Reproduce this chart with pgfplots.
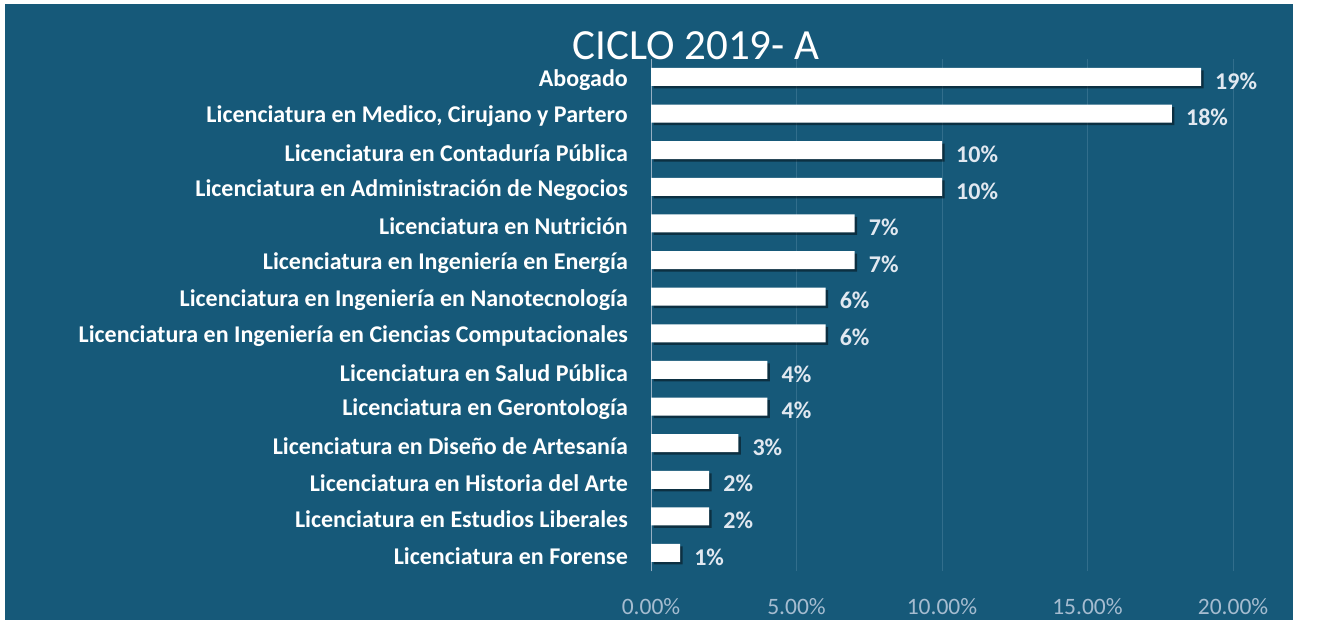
\documentclass[border=0pt]{standalone}
\usepackage{fontspec}
\setmainfont{Carlito}
\usepackage{pgfplots}
\pgfplotsset{compat=1.18}
\usetikzlibrary{shadows}
\definecolor{bg}{RGB}{22,89,121}
\definecolor{gridc}{RGB}{50,110,140}
\definecolor{axc}{RGB}{150,175,195}
\definecolor{ticklab}{RGB}{165,188,208}
\definecolor{vallab}{RGB}{225,232,240}
\begin{document}
\begin{tikzpicture}[x=1bp,y=1bp]
\fill[white] (0,0) rectangle (1336,624);
\fill[bg] (5,4) rectangle (1293,620);
\node[anchor=base, text=white, font=\fontsize{43bp}{50bp}\selectfont, inner sep=0pt] at (696,564) {CICLO 2019- A};
\begin{axis}[
  at={(651bp,52.7bp)}, anchor=south west,
  scale only axis, width=582bp, height=512.6bp,
  xmin=0, xmax=20, ymin=-0.5, ymax=13.5,
  xbar, bar width=18bp, bar shift=0pt,
  /pgf/number format/assume math mode=true,
  axis lines=left,
  axis line style={-},
  x axis line style={draw=none},
  y axis line style={draw=axc, line width=1bp},
  major tick length=0pt,
  xmajorgrids, grid style={draw=gridc, line width=1bp},
  xtick={0,5,10,15,20},
  xticklabels={0.00\%,5.00\%,10.00\%,15.00\%,20.00\%},
  xticklabel style={inner sep=0pt, anchor=center, yshift=-35bp, text=ticklab, font=\fontsize{23.5bp}{27bp}\selectfont},
  ytick={0,...,13},
  yticklabels={Licenciatura en Forense, Licenciatura en Estudios Liberales, Licenciatura en Historia del Arte, Licenciatura en Diseño de Artesanía, Licenciatura en Gerontología, Licenciatura en Salud Pública, Licenciatura en Ingeniería en Ciencias Computacionales, Licenciatura en Ingeniería en Nanotecnología, Licenciatura en Ingeniería en Energía, Licenciatura en Nutrición, Licenciatura en Administración de Negocios, Licenciatura en Contaduría Pública, {Licenciatura en Medico, Cirujano y Partero}, Abogado},
  yticklabel style={inner sep=0pt, anchor=east, xshift=-23bp, yshift=-3bp, text=white, font=\bfseries\fontsize{24bp}{27bp}\selectfont},
  point meta=x,
  nodes near coords={\pgfmathprintnumber[fixed,precision=0]{\pgfplotspointmeta}\%},
  nodes near coords style={anchor=west, xshift=14bp, yshift=-4bp, inner sep=0pt, text=vallab, font=\bfseries\fontsize{24bp}{27bp}\selectfont},
]
\addplot[fill=white, draw=none, drop shadow={shadow xshift=2.5bp, shadow yshift=-2.5bp, opacity=0.45, fill=black}] coordinates {
(1,0) (2,1) (2,2) (3,3) (4,4) (4,5) (6,6) (6,7) (7,8) (7,9) (10,10) (10,11) (17.9,12) (18.9,13)};
\end{axis}
\end{tikzpicture}
\end{document}
